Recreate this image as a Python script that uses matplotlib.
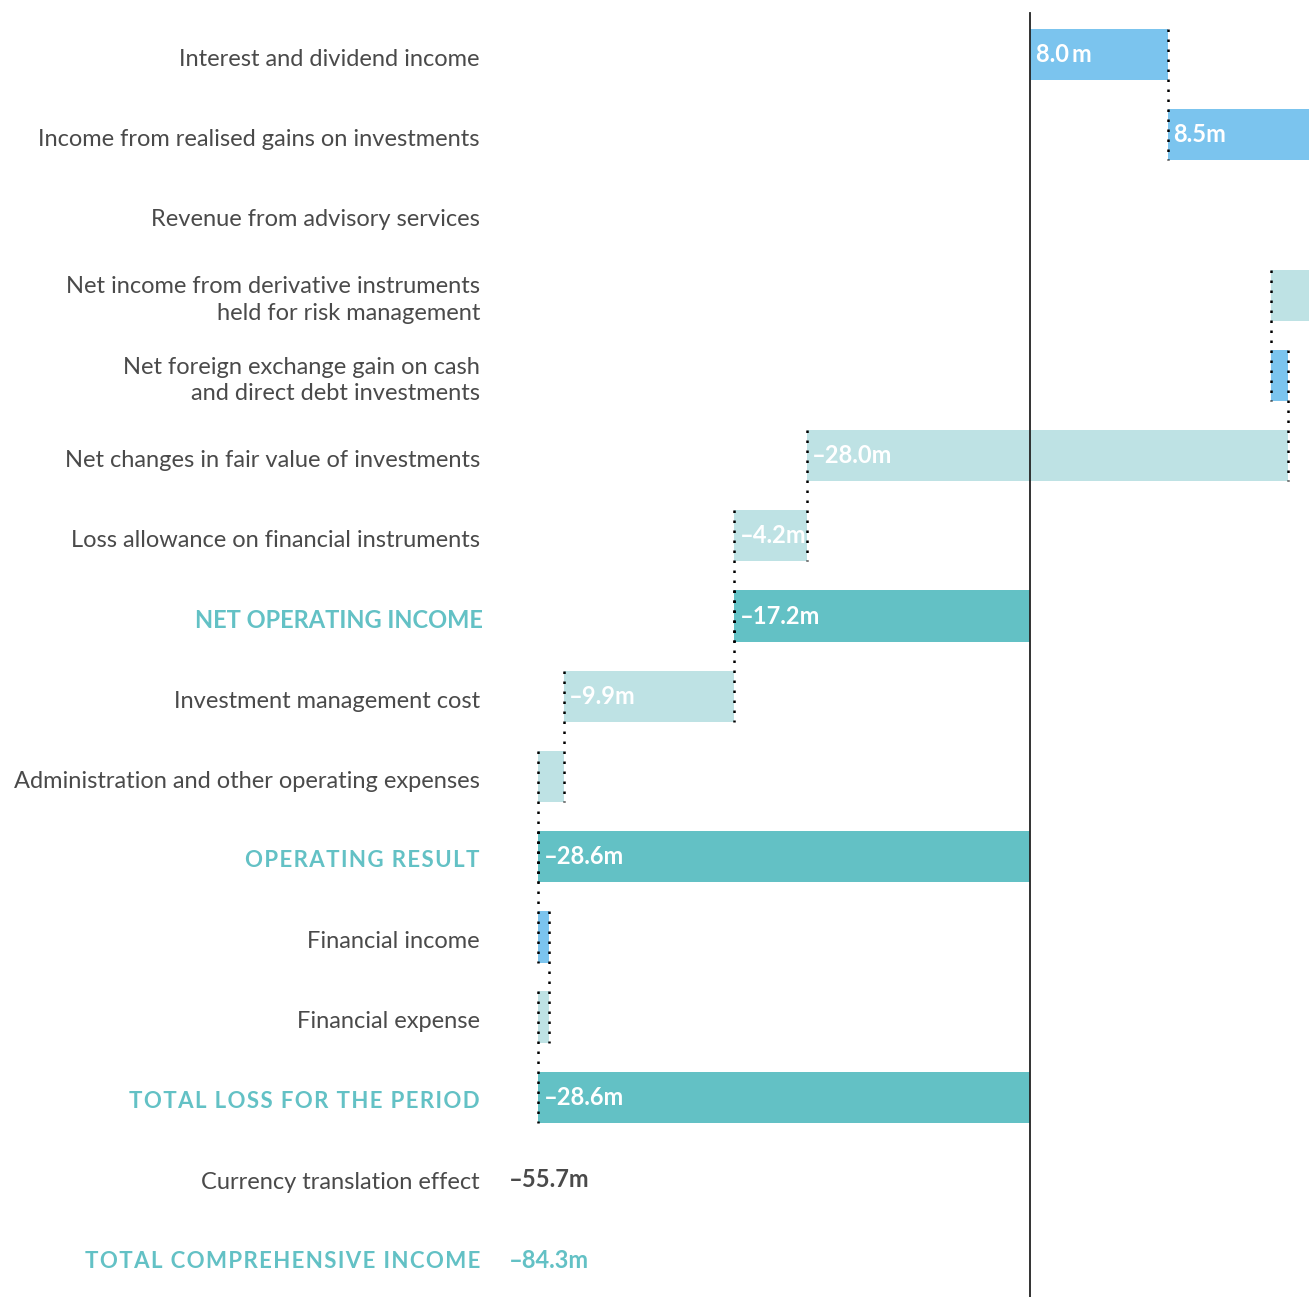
import numpy as np
import matplotlib
matplotlib.use("Agg")
import matplotlib.pyplot as plt

# rows of the income statement, top to bottom
labels = [
    "Interest and dividend income",
    "Income from realised gains on investments",
    "Revenue from advisory services",
    "Net income from derivative instruments\nheld for risk management",
    "Net foreign exchange gain on cash\nand direct debt investments",
    "Net changes in fair value of investments",
    "Loss allowance on financial instruments",
    "NET OPERATING INCOME",
    "Investment management cost",
    "Administration and other operating expenses",
    "OPERATING RESULT",
    "Financial income",
    "Financial expense",
    "TOTAL LOSS FOR THE PERIOD",
    "Currency translation effect",
    "TOTAL COMPREHENSIVE INCOME",
]
# step changes in EUR m; None = running total bar
steps = [8.0, 8.5, 0.2, -2.7, 1.0, -28.0, -4.2, None,
         -9.9, -1.5, None, 0.6, -0.6, None]
bar_text = ["8.0\u2009m", "8.5m", "", "", "", "\u201328.0m", "\u20134.2m", "\u201317.2m",
            "\u20139.9m", "", "\u201328.6m", "", "", "\u201328.6m"]
# text-only rows at the bottom
extra_values = ["\u201355.7m", "\u201384.3m"]

c_pos = "#7BC4EE"
c_neg = "#BEE2E4"
c_tot = "#63C1C5"
c_txt = "#4a4a4a"

plt.rcParams["font.family"] = ["Lato", "DejaVu Sans"]

fig = plt.figure(figsize=(13.09, 12.97), dpi=100)
ax = fig.add_axes([0, 0, 1, 1])
ax.set_xlim(-59.9, 16.2)
ax.set_ylim(15.46, -0.71)
ax.axis("off")

h = 0.64
run = 0.0
ends = []
for i, s in enumerate(steps):
    if s is None:
        start, end, col = 0, run, c_tot
    else:
        start, end = run, run + s
        col = c_pos if s > 0 else c_neg
        run = end
    ax.barh(i - 0.03, end - start, left=start, height=h, color=col, linewidth=0)
    ends.append(end)
    if bar_text[i]:
        x0 = min(start, end)
        ax.text(x0 + 0.3, i - 0.03, bar_text[i], color="white", fontsize=17,
                fontweight="bold", va="center", ha="left")

# dotted connectors between consecutive bars
for i in range(len(steps) - 1):
    x = ends[i]
    ax.plot([x, x], [i - 0.03 - h / 2, i + 0.97 + h / 2], color="black",
            linestyle=(0, (1, 3)), linewidth=1.8)

# zero line
ax.plot([0, 0], [-0.55, 15.46], color="#222222", linewidth=1.3)

# row labels
for i, lab in enumerate(labels):
    if lab == "NET OPERATING INCOME":
        ax.text(-31.8, i + 0.02, lab, color=c_tot, fontsize=17,
                fontweight="bold", ha="right", va="center")
    elif lab.isupper():
        ax.text(-32.0, i + 0.02, "\u200a".join(lab), color=c_tot, fontsize=16,
                fontweight="bold", ha="right", va="center")
    else:
        ax.text(-32.0, i + 0.03, lab, color=c_txt, fontsize=17, ha="right",
                va="center", multialignment="right", linespacing=1.3)

ax.text(-30.3, 14, extra_values[0], color=c_txt, fontsize=17,
        fontweight="bold", ha="left", va="center")
ax.text(-30.3, 15, extra_values[1], color=c_tot, fontsize=17,
        fontweight="bold", ha="left", va="center")

fig.savefig("out.png", dpi=100)
